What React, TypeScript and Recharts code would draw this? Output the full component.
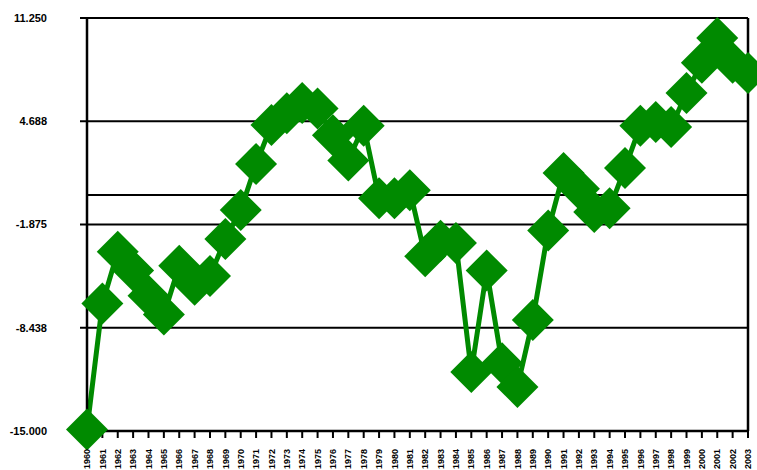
import { LineChart, Line, XAxis, YAxis, CartesianGrid, ReferenceLine } from 'recharts';

const years = [
  '1960', '1961', '1962', '1963', '1964', '1965', '1966', '1967', '1968', '1969',
  '1970', '1971', '1972', '1973', '1974', '1975', '1976', '1977', '1978', '1979',
  '1980', '1981', '1982', '1983', '1984', '1985', '1986', '1987', '1988', '1989',
  '1990', '1991', '1992', '1993', '1994', '1995', '1996', '1997', '1998', '1999',
  '2000', '2001', '2002', '2003',
];

const values = [
  -14.9, -6.9, -3.6, -4.8, -6.4, -7.6, -4.5, -5.7, -5.15, -2.8,
  -0.95, 1.97, 4.45, 5.2, 5.85, 5.5, 3.8, 2.2, 4.4, -0.2,
  -0.2, 0.3, -3.9, -2.9, -3.05, -11.25, -4.8, -10.7, -12.2, -7.95,
  -2.25, 1.4, 0.4, -1.08, -0.85, 1.72, 4.4, 4.64, 4.32, 6.48,
  8.4, 9.98, 8.4, 7.75,
];

const yTicks = [-15, -8.4375, -1.875, 4.6875, 11.25];

const data = years.map((year, i) => ({ year, value: values[i] }));

const GREEN = '#008a00';

function Diamond(props: any) {
  const { cx, cy } = props;
  if (cx == null || cy == null) return null;
  const r = 21;
  return (
    <polygon
      points={`${cx},${cy - r} ${cx + r},${cy} ${cx},${cy + r} ${cx - r},${cy}`}
      fill={GREEN}
    />
  );
}

function YearTick(props: any) {
  const { x, y, payload } = props;
  return (
    <g transform={`translate(${x},${y})`}>
      <text
        transform="rotate(-90)"
        x={0}
        y={0}
        dy="0.35em"
        textAnchor="end"
        fontSize={9}
        fontWeight="bold"
        fontFamily="Liberation Sans, Arial, sans-serif"
        fill="#000"
      >
        {payload.value}
      </text>
    </g>
  );
}

export default function App() {
  return (
    <div style={{ position: 'absolute', left: 0, top: 0 }}>
      <LineChart
        width={757}
        height={470}
        data={data}
        margin={{ top: 18, right: 9, bottom: 0, left: 0 }}
      >
        <CartesianGrid vertical={false} stroke="#000" strokeWidth={2.2} />
        <XAxis
          dataKey="year"
          interval={0}
          height={39}
          tickSize={7}
          tickMargin={11}
          axisLine={{ stroke: '#000', strokeWidth: 2.5 }}
          tickLine={{ stroke: '#000', strokeWidth: 2 }}
          tick={<YearTick />}
        />
        <YAxis
          width={87}
          domain={[-15, 11.25]}
          ticks={yTicks}
          interval={0}
          tickSize={7}
          tickMargin={33}
          tickFormatter={(v) => Number(v).toFixed(3)}
          axisLine={{ stroke: '#000', strokeWidth: 2.5 }}
          tickLine={{ stroke: '#000', strokeWidth: 2 }}
          tick={{
            fill: '#000',
            fontSize: 11,
            fontWeight: 'bold',
            fontFamily: 'Liberation Sans, Arial, sans-serif',
          }}
        />
        <ReferenceLine y={0} stroke="#000" strokeWidth={2.2} />
        <ReferenceLine x="2003" stroke="#000" strokeWidth={2.5} />
        <Line
          type="linear"
          dataKey="value"
          stroke={GREEN}
          strokeWidth={5}
          dot={<Diamond />}
          activeDot={false}
          isAnimationActive={false}
        />
      </LineChart>
    </div>
  );
}
